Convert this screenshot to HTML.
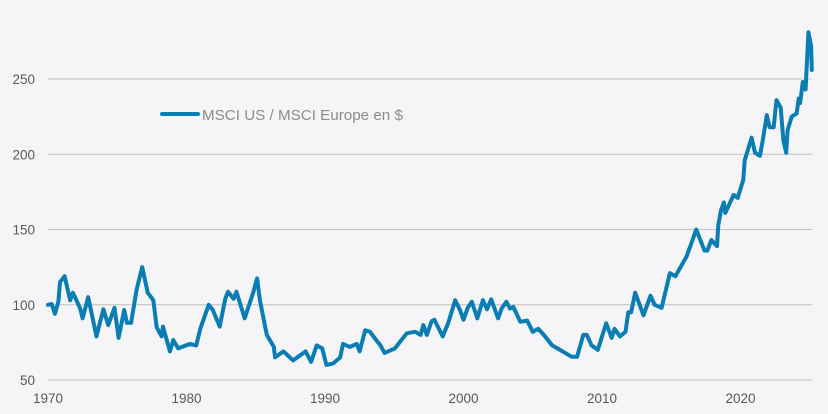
<!DOCTYPE html>
<html><head><meta charset="utf-8"><style>
html,body{margin:0;padding:0;background:#f5f5f7;}
svg{display:block;font-family:"Liberation Sans",sans-serif;}
</style></head><body>
<svg id="chart" width="828" height="414" viewBox="0 0 828 414">
<rect width="828" height="414" fill="#f5f5f7"/>
<g id="grid"></g>
<g id="yt"></g>
<g id="xt"></g>
<g id="series"></g>
<g>
<line x1="162" y1="114" x2="198" y2="114" stroke="#0a7db4" stroke-width="4" stroke-linecap="round"/>
<text x="202" y="120" font-size="15.2" fill="#8c8c8c">MSCI US / MSCI Europe en $</text>
</g>
</svg>
<script>
const yTicks=[50,100,150,200,250];
const xTicks=[1970,1980,1990,2000,2010,2020];
const years=[1970.0,1970.27,1970.5,1970.75,1970.87,1971.2,1971.6,1971.8,1972.3,1972.5,1972.9,1973.5,1973.75,1974.0,1974.35,1974.8,1975.1,1975.5,1975.7,1976.0,1976.4,1976.8,1977.2,1977.6,1977.85,1978.2,1978.3,1978.8,1979.05,1979.4,1980.25,1980.7,1981.0,1981.6,1981.9,1982.4,1982.8,1983.0,1983.4,1983.6,1984.2,1984.8,1985.1,1985.3,1985.8,1986.3,1986.4,1987.0,1987.7,1988.6,1989.0,1989.4,1989.8,1990.1,1990.6,1991.1,1991.3,1991.8,1992.3,1992.5,1992.9,1993.25,1993.7,1994.0,1994.3,1995.05,1995.9,1996.5,1996.9,1997.1,1997.35,1997.7,1997.9,1998.5,1998.9,1999.4,1999.75,2000.0,2000.3,2000.6,2001.0,2001.4,2001.7,2002.0,2002.5,2002.75,2003.1,2003.35,2003.6,2004.1,2004.6,2005.0,2005.4,2005.8,2006.4,2006.97,2007.8,2008.2,2008.65,2008.9,2009.25,2009.7,2010.3,2010.7,2010.9,2011.3,2011.7,2011.9,2012.1,2012.4,2013.0,2013.5,2013.8,2014.3,2014.9,2015.3,2016.1,2016.5,2016.8,2017.4,2017.6,2017.9,2018.3,2018.4,2018.6,2018.8,2018.9,2019.5,2019.8,2020.2,2020.3,2020.8,2021.05,2021.4,2021.6,2021.9,2022.1,2022.4,2022.6,2022.9,2023.1,2023.3,2023.4,2023.7,2024.05,2024.2,2024.3,2024.5,2024.7,2024.9,2025.1,2025.15];
const values=[100,100.5,94,102,115,119,103,108,98,91,105,79,88,97,86.5,98,78,96.5,88,88,110,125,108,103,85,79,85.5,69,76.5,71,74,73,84,100,96.5,85.5,104,108.7,104,108.7,91,107.6,117.5,103,80,72,65,69,63,69,62,73,71,60,61,65,74,72,74,69,83,82,76.5,73,68,71,81,82,80,86.5,80,89,90,79,88,103,96.5,90,98,102,91,103,97,103.6,91,97.5,102,97.5,98.5,88.7,89.5,82,84,80,73,70,65.5,65.5,80,80,73,70,87.7,78,84,79,82,95,95,108,93,106,100,98,121,119,132,142,150,136,136,143,139,153,163,168,161,173,171,183,196,211,201,199,209,226,218,218,236,231,209,201,216,225,227,237,234,248,243,281,272,256];
const X0=48,PXY=13.85,Y0=380,PXV=1.505,XR=812;
const xs=y=>X0+(y-1970)*PXY;
const ys=v=>Y0-(v-50)*PXV;
const NS="http://www.w3.org/2000/svg";
const grid=document.getElementById('grid'),yt=document.getElementById('yt'),xt=document.getElementById('xt'),series=document.getElementById('series');
yTicks.forEach(t=>{
 const l=document.createElementNS(NS,'line');
 l.setAttribute('x1',X0);l.setAttribute('x2',XR);l.setAttribute('y1',ys(t));l.setAttribute('y2',ys(t));
 l.setAttribute('stroke','#bfbfbf');l.setAttribute('stroke-width','1');
 
 
 grid.appendChild(l);
 const tx=document.createElementNS(NS,'text');
 tx.setAttribute('x',35);tx.setAttribute('y',ys(t)+5);tx.setAttribute('text-anchor','end');
 tx.setAttribute('font-size','13.5');tx.setAttribute('fill','#595959');tx.textContent=t;
 
 
 yt.appendChild(tx);
});
xTicks.forEach(t=>{
 const tx=document.createElementNS(NS,'text');
 tx.setAttribute('x',xs(t));tx.setAttribute('y',403);tx.setAttribute('text-anchor','middle');
 tx.setAttribute('font-size','13.5');tx.setAttribute('fill','#595959');tx.textContent=t;
 
 
 xt.appendChild(tx);
});
const p=document.createElementNS(NS,'polyline');
p.setAttribute('points',years.map((y,i)=>xs(y).toFixed(1)+','+ys(values[i]).toFixed(1)).join(' '));
p.setAttribute('fill','none');p.setAttribute('stroke','#0a7db4');p.setAttribute('stroke-width','4');
p.setAttribute('stroke-linejoin','round');p.setAttribute('stroke-linecap','round');


series.appendChild(p);
</script>
</body></html>
